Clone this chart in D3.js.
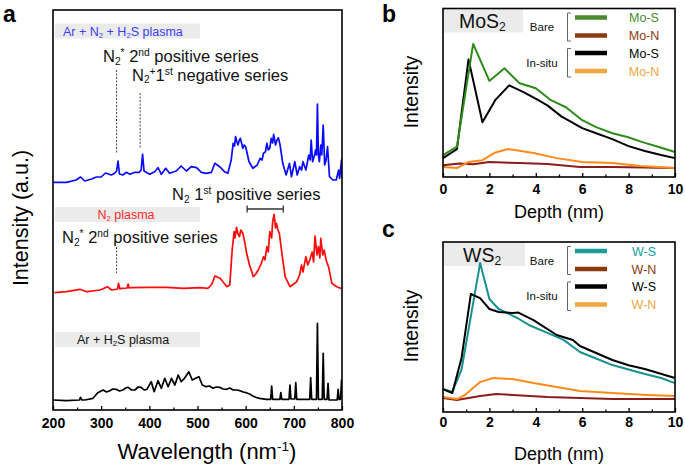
<!DOCTYPE html>
<html><head><meta charset="utf-8">
<script src="https://cdn.jsdelivr.net/npm/d3@7"></script>
<style>body{margin:0;background:#fff}svg{display:block}text{font-family:Arial,"Liberation Sans",sans-serif}</style>
</head><body><svg id="c" width="685" height="469"></svg>
<script>
// ---------- DATA ----------
const wavelengthTicks = [200, 300, 400, 500, 600, 700, 800];
const wavelengthMinorTicks = [250, 350, 450, 550, 650, 750];
const depthTicks = [0, 2, 4, 6, 8, 10];
const depthMinorTicks = [1, 3, 5, 7, 9];

// Panel a spectra: [wavelength nm, intensity a.u.]
const spectrumArN2H2S = [[200,7.7],[228,7.7],[248,10],[257,13],[266,9],[280,11],[290,13],[300,13],[309,17],[321,15],[328,16.7],[332,19],[335,29],[338,16],[345,15],[352,17.7],[360,15.7],[370,17.7],[379,17.7],[383,20],[386,35.7],[389,19],[396,17],[401,15.7],[411,18.3],[418,22.3],[425,15.7],[434,21.7],[442,16.7],[456,19],[466,24],[477,19],[487,23.3],[498,22.3],[508,17.7],[518,16.7],[529,17.7],[536,26.7],[546,23.3],[556,18.3],[563,16.7],[570,30],[574,46.7],[577,44],[579,53.3],[582,48],[584,45],[587,50],[589,51.7],[592,46],[594,41.7],[597,45],[600,43.3],[607,28.3],[615,21.7],[624,25],[630,31.7],[634,30],[637,36.7],[641,38],[644,46.7],[647,40],[650,41.7],[653,51.7],[656,47],[658,55.7],[662,45],[665,50],[668,52.3],[671,46],[673,40],[677,26.7],[684,15],[691,26.7],[695,13.3],[702,28.3],[707,15],[712,23.3],[716,20],[719,28.3],[725,20],[731,35],[734,30],[736,50],[739,28.3],[743,35],[745,40],[747,35],[749,86],[751,35],[753,28.3],[756,45],[758,35],[761,65],[764,25],[767,30],[770,43.3],[774,13.3],[781,10],[788,10],[793,20],[795,11.7],[799,30],[800,12]];
const spectrumN2 = [[203,7.3],[228,8.3],[256,10.7],[270,8.3],[298,10],[313,13.3],[322,10],[334,11],[336,16.7],[339,11],[343,11.7],[354,12],[356,16],[358,12],[363,12.3],[401,12.7],[436,12.7],[471,11.7],[505,12.3],[522,11.7],[530,16],[536,24],[547,21.7],[561,13.3],[567,15],[572,50],[576,68.3],[578,62],[581,72.7],[584,66],[587,63.3],[590,70],[594,66.7],[598,58],[602,46.7],[608,35],[616,23.3],[621,26],[626,30],[632,36],[637,43.3],[640,40],[644,53.3],[647,48],[650,68.3],[654,62],[656,78],[659,85.7],[662,72],[664,76.7],[667,70],[670,66.7],[673,55],[677,40],[682,23.3],[692,13.3],[700,16],[706,18.3],[712,25],[716,35],[719,28],[725,43.3],[729,35],[733,40],[738,48],[741,38],[744,64],[748,45],[751,53.3],[754,42],[756,61.7],[760,45],[763,50],[767,40],[772,33.3],[779,16.7],[789,13.3],[797,11.7],[800,12]];
const spectrumArH2S = [[200,10],[228,9.3],[255,10],[257,12.7],[260,10],[266,10],[283,11.7],[293,17.3],[304,20],[311,18],[318,19.3],[324,21],[331,20.7],[338,19],[345,20],[351,22],[356,22.7],[363,20],[370,20],[377,23],[383,22.7],[389,20],[395,20.7],[404,28.3],[410,18.3],[418,29.3],[425,21.7],[432,31.7],[439,23.3],[446,31.7],[453,25],[460,35],[466,28.3],[473,31.7],[482,38.3],[489,30],[496,31.7],[503,33.3],[510,25],[518,23.3],[525,24],[532,21.7],[539,23],[546,22.7],[553,21],[560,20.7],[567,22],[574,20],[581,20],[588,19.3],[595,18],[601,17.3],[608,16],[615,14],[622,12.5],[629,11.7],[643,10.7],[652,10.7],[654,24],[656,10.7],[671,10.7],[673,17.3],[675,10.7],[690,10.7],[692,25],[694,11],[702,11],[704,27.3],[706,10.7],[733,10.7],[735,32.3],[737,10.7],[747,10.7],[749,86.7],[751,10.7],[759,10.7],[761,56.7],[763,10.7],[769,10.7],[771,26.7],[773,10],[790,10],[792,20.7],[794,10.7],[797,10.7],[799,30],[800,20]];
const spectrumOffsets = [220, 110, 0]; // blue, red, black stacking offsets

// Panel b: MoS2 depth profiles [depth nm, intensity]
const moBareMoS = [[0,13],[0.6,18],[1.3,79],[2.0,57],[2.65,64.5],[3.3,55.6],[4.0,52.7],[4.65,45.6],[5.3,41.4],[6.0,33.7],[6.6,29.6],[7.3,26],[7.95,23.7],[8.6,20.7],[9.3,17.8],[10,14.8]];
const moBareMoN = [[0,7],[0.7,8],[1.3,7.5],[2.0,8.9],[3.3,8.3],[4.5,7.7],[5.9,5.9],[7.3,5.9],[10,5.3]];
const moInsituMoS = [[0,11.2],[0.6,16.5],[1.1,69.8],[1.7,32.5],[2.25,45.6],[2.85,54.4],[3.45,50.5],[4.05,46],[4.5,42.5],[5.1,36],[6.0,29],[6.6,26],[7.3,22.5],[8.0,18.3],[8.7,15.4],[9.4,13],[10,11.2]];
const moInsituMoN = [[0,5.9],[0.6,5.3],[1.1,8.9],[1.7,10],[2.2,14.2],[2.8,16.6],[3.9,14.2],[4.9,11.2],[6.0,8.9],[7.3,8.3],[8.5,6.5],[10,5.3]];

// Panel c: WS2 depth profiles
const wBareWS = [[0,13.5],[0.4,11.8],[0.8,25],[1.6,87.6],[2.0,66.5],[2.4,60.6],[3.2,55.3],[3.7,51.2],[4.5,46.5],[5.2,42.4],[5.9,35.3],[6.6,31.5],[7.3,27.6],[8.0,25],[8.7,22.4],[9.4,20],[10,17]];
const wBareWN = [[0,8.2],[0.6,7.1],[1.6,9.4],[2.3,10.6],[3.0,10],[4.5,8.8],[5.9,8.2],[7.3,7.6],[10,7.6]];
const wInsituWS = [[0,13.5],[0.4,11.2],[0.8,31.8],[1.2,69.4],[1.6,67],[2.0,60.6],[2.4,58.8],[3.0,58.2],[3.25,58.5],[3.9,54],[4.9,45.3],[5.6,42.4],[5.9,38.8],[7.3,30.6],[8.0,27.5],[8.7,25.3],[10,20]];
const wInsituWN = [[0,8.8],[0.6,7.6],[0.95,10],[1.6,17.6],[2.15,20],[3.0,19.4],[3.9,17],[4.9,14.7],[5.9,12.4],[7.3,11.2],[8.8,10],[10,9.4]];

const moLegendLabels = ["Mo-S", "Mo-N", "Mo-S", "Mo-N"];
const wLegendLabels = ["W-S", "W-N", "W-S", "W-N"];

// ---------- DRAW ----------
const svg = d3.select("#c");
svg.append("rect").attr("width",685).attr("height",469).attr("fill","#fff");

function rich(g, x, y, parts, size, opts={}) {
  const t = g.append("text").attr("x",x).attr("y",y).attr("font-size",size);
  if (opts.fill) t.attr("fill", opts.fill);
  if (opts.anchor) t.attr("text-anchor", opts.anchor);
  if (opts.weight) t.attr("font-weight", opts.weight);
  if (opts.transform) t.attr("transform", opts.transform);
  let shift = 0;
  parts.forEach(p => {
    const s = typeof p === "string" ? p : p[0];
    const k = typeof p === "string" ? null : p[1];
    const target = k === "sup" ? -0.36*size : k === "sub" ? 0.17*size : 0;
    const ts = t.append("tspan").text(s).attr("dy", target - shift);
    if (k) ts.attr("font-size", size*0.62);
    shift = target;
  });
  return t;
}

function frame(x0, y0, x1, y1) {
  svg.append("rect").attr("x",x0).attr("y",y0).attr("width",x1-x0).attr("height",y1-y0)
    .attr("fill","none").attr("stroke","#000").attr("stroke-width",1.6);
}

function bottomAxis(x, yPix, ticks, minor, pad) {
  const g = svg.append("g").attr("transform",`translate(0,${yPix})`);
  g.call(d3.axisBottom(x).tickValues(ticks).tickSize(-4).tickPadding(pad).tickFormat(d3.format("d")));
  g.select(".domain").remove();
  g.selectAll(".tick line").attr("stroke","#000").attr("stroke-width",1.3);
  g.selectAll(".tick text").attr("font-size",14).attr("font-weight","bold").attr("fill","#000")
    .attr("font-family","Arial, 'Liberation Sans', sans-serif");
  const g2 = svg.append("g").attr("transform",`translate(0,${yPix})`);
  g2.call(d3.axisBottom(x).tickValues(minor).tickSize(-2.5).tickFormat(""));
  g2.select(".domain").remove();
  g2.selectAll(".tick line").attr("stroke","#000").attr("stroke-width",1.3);
}

// ===== Panel a =====
const xa = d3.scaleLinear().domain([200,800]).range([53,342]);
const ya = d3.scaleLinear().domain([0,400]).range([410,10]);

svg.append("text").attr("x",3).attr("y",22).attr("font-size",23).attr("font-weight","bold").text("a");

// gray label boxes
[[23.5],[207],[332]].forEach(([yb]) => {
  svg.append("rect").attr("x",55).attr("y",yb).attr("width",145).attr("height",15).attr("fill","#ebebeb");
});
rich(svg, 63, 35.5, ["Ar + N",["2","sub"]," + H",["2","sub"],"S plasma"], 12.5, {fill:"#3b3bff"});
rich(svg, 126, 219, ["N",["2","sub"]," plasma"], 12.5, {fill:"#ff2a2a", anchor:"middle"});
rich(svg, 77, 344, ["Ar + H",["2","sub"],"S plasma"], 12.5, {fill:"#111"});

const clipA = svg.append("clipPath").attr("id","clipA").append("rect")
  .attr("x",53).attr("y",10).attr("width",289).attr("height",400);
const lineA = off => d3.line().x(d => xa(d[0])).y(d => ya(d[1] + off));
const spectra = [spectrumArN2H2S, spectrumN2, spectrumArH2S];
const spectraColors = ["#0a0aff", "#ff0a0a", "#000000"];
spectra.forEach((s,i) => {
  svg.append("path").datum(s).attr("clip-path","url(#clipA)")
    .attr("d", lineA(spectrumOffsets[i])).attr("fill","none")
    .attr("stroke", spectraColors[i]).attr("stroke-width",1.7).attr("stroke-linejoin","round");
});

// annotations
const dash = (wl, y0, y1) => svg.append("line").attr("x1",xa(wl)).attr("x2",xa(wl)).attr("y1",y0).attr("y2",y1)
  .attr("stroke","#444").attr("stroke-width",1).attr("stroke-dasharray","2,1.5");
dash(332, 70, 154);
dash(381, 93, 148);
dash(332, 247, 273);
rich(svg, 103, 62, ["N",["2","sub"],["*","sup"]," 2",["nd","sup"]," positive series"], 16.5, {fill:"#111"});
rich(svg, 132, 80.5, ["N",["2","sub"],["+","sup"],"1",["st","sup"]," negative series"], 16.5, {fill:"#111"});
rich(svg, 172, 200, ["N",["2","sub"],"  1",["st","sup"]," positive series"], 16.5, {fill:"#111"});
rich(svg, 62, 243, ["N",["2","sub"],["*","sup"]," 2",["nd","sup"]," positive series"], 16.5, {fill:"#111"});
// bracket for N2 1st positive series
const bx0 = xa(603), bx1 = xa(678);
svg.append("path").attr("d",`M${bx0},205.5V212.5M${bx0},209H${bx1}M${bx1},205.5V212.5`)
  .attr("stroke","#333").attr("stroke-width",1.3).attr("fill","none");

frame(53,10,342,410);
bottomAxis(xa, 410, wavelengthTicks, wavelengthMinorTicks, 8);

rich(svg, 207, 459, ["Wavelength (nm",["-1","sup"],")"], 22, {anchor:"middle"});
rich(svg, 0, 0, ["Intensity (a.u.)"], 21.5, {anchor:"middle", transform:"translate(28,218) rotate(-90)"});

// ===== Panels b & c =====
const xd = d3.scaleLinear().domain([0,10]).range([443,675]);
function depthPanel(opts) {
  const y = d3.scaleLinear().domain([0,100]).range([opts.bottom, opts.top]);
  svg.append("text").attr("x",382).attr("y",opts.letterY).attr("font-size",23).attr("font-weight","bold").text(opts.letter);
  svg.append("rect").attr("x",443).attr("y",opts.top).attr("width",opts.boxW).attr("height",24).attr("fill","#ebebeb");
  rich(svg, opts.nameX, opts.top+19.5, opts.name, 19.5, {fill:"#111"});
  const ln = d3.line().x(d => xd(d[0])).y(d => y(d[1]));
  opts.series.forEach((s,i) => {
    svg.append("path").datum(s).attr("d", ln).attr("fill","none")
      .attr("stroke", opts.colors[i]).attr("stroke-width",2).attr("stroke-linejoin","round");
  });
  // legend
  const t0 = opts.top;
  const ly = [t0+9, t0+27, t0+44.5, t0+62.5];
  opts.labels.forEach((lab,i) => {
    svg.append("line").attr("x1",575).attr("x2",607).attr("y1",ly[i]).attr("y2",ly[i])
      .attr("stroke",opts.swatch[i]).attr("stroke-width",4.5);
    svg.append("text").attr("x",644).attr("y",ly[i]+4.5).attr("text-anchor","middle")
      .attr("font-size",12.5).attr("fill",opts.swatch[i]).text(lab);
  });
  [[ly[0]-4.5, ly[1]+5.5, "Bare"], [ly[2]-4.5, ly[3]+6, "In-situ"]].forEach(([a,b,lab]) => {
    svg.append("path").attr("d",`M571,${a}H567.5V${b}H571`).attr("fill","none").attr("stroke","#666").attr("stroke-width",1);
    svg.append("text").attr("x",542).attr("y",(a+b)/2+4).attr("text-anchor","middle").attr("font-size",11.5).attr("fill","#111").text(lab);
  });
  frame(443, opts.top, 675, opts.bottom);
  bottomAxis(xd, opts.bottom, depthTicks, depthMinorTicks, opts.pad);
  svg.append("text").attr("x",559).attr("y",opts.titleY).attr("text-anchor","middle").attr("font-size",18).text("Depth (nm)");
  svg.append("text").attr("transform",`translate(418,${opts.intY}) rotate(-90)`).attr("text-anchor","middle").attr("font-size",19.5).text("Intensity");
}

depthPanel({
  top:8.5, bottom:177, letter:"b", letterY:22, boxW:80, nameX:459,
  name:["MoS",["2","sub"]],
  series:[moBareMoN, moInsituMoN, moInsituMoS, moBareMoS],
  colors:["#8b1c1c","#ff8a1a","#000000","#2e8b1a"],
  labels:moLegendLabels,
  swatch:["#4a8a2c","#8b3a10","#000000","#f2a642"],
  pad:7, titleY:218, intY:92
});
depthPanel({
  top:242, bottom:412, letter:"c", letterY:237, boxW:82, nameX:463,
  name:["WS",["2","sub"]],
  series:[wBareWN, wInsituWN, wBareWS, wInsituWS],
  colors:["#8b1c1c","#ff8a1a","#17908f","#000000"],
  labels:wLegendLabels,
  swatch:["#1a9e98","#8b3a10","#000000","#f2a642"],
  pad:5, titleY:460, intY:326
});
</script></body></html>
